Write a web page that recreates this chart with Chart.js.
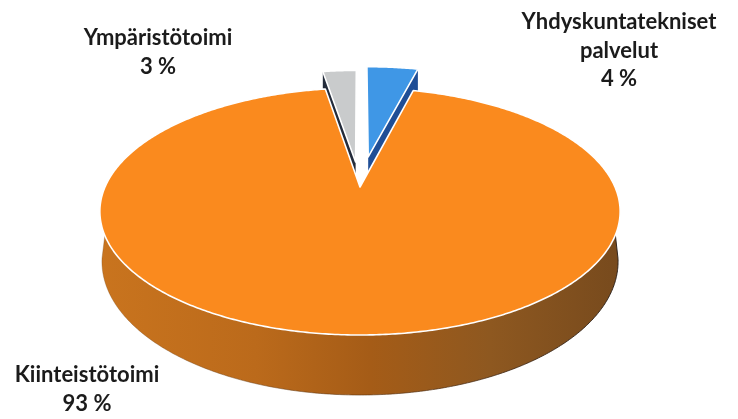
<!DOCTYPE html>
<html lang="fi">
<head>
  <meta charset="UTF-8">
  <title>Kiinteistötoimi</title>
  <script src="https://cdn.jsdelivr.net/npm/chart.js"></script>
  <style>
    html, body { margin: 0; padding: 0; background: #fff; }
    canvas { display: block; }
  </style>
</head>
<body>
  <canvas id="pie" width="738" height="419"></canvas>
  <script>
    // Values, clockwise from the top
    const categories = ['Yhdyskuntatekniset palvelut', 'Kiinteistötoimi', 'Ympäristötoimi'];
    const shares = [4, 93.4, 2.6];
    const sliceColors = ['#3f97e6', '#fa8a1e', '#c9cbcc'];
    const wallColors = ['#1f4e96', '#a85c16', '#232b3a'];
    const explode = [27, 0, 22];

    // Label lines + anchor for each category
    const labelLines = [['Yhdyskuntatekniset', 'palvelut'], ['Kiinteistötoimi'], ['Ympäristötoimi']];
    const labelAnchors = [[619, 29], [87, 382], [158, 45]];
    const labelLeading = 28.5;

    // Perspective of the pie: apex on screen, scale and tilt
    const apexX = 360, apexY = 187;
    const scaleX = 255, scaleY = 118.7, tilt = 0.198;
    const rimDepth = 60;
    const rimFrom = 22 * Math.PI / 180, rimTo = 158 * Math.PI / 180;
    const rimOverhang = 12 * Math.PI / 180;

    function project(x, y) {
      const w = 1 - tilt * y;
      return [apexX + scaleX * x / w, apexY + scaleY * y / w];
    }

    function depthAt(y) {
      return rimDepth * (1 - tilt) / (1 - tilt * y);
    }

    class Arc3d extends Chart.ArcElement {
      static id = 'arc3d';

      draw(ctx) {
        const { startAngle, endAngle } = this.getProps(['startAngle', 'endAngle']);
        const o = this.options;
        const idx = this.$index;
        const ds = this.$dataset;
        const mid = (startAngle + endAngle) / 2;
        const off = o.offset / 100;
        const ox = off * Math.cos(mid), oy = off * Math.sin(mid);
        const onRim = a => [ox + Math.cos(a), oy + Math.sin(a)];

        ctx.save();
        ctx.lineJoin = 'round';

        // cut face of a pulled-out slice
        if (off > 0) {
          const a = Math.cos(mid) > 0 ? endAngle : startAngle;
          const out = onRim(a);
          const p1 = project(ox, oy), p2 = project(out[0], out[1]);
          ctx.beginPath();
          ctx.moveTo(p1[0], p1[1]);
          ctx.lineTo(p2[0], p2[1]);
          ctx.lineTo(p2[0], p2[1] + depthAt(out[1]));
          ctx.lineTo(p1[0], p1[1] + depthAt(oy));
          ctx.closePath();
          ctx.fillStyle = ds.wallColors[idx];
          ctx.fill();
        }

        // side of the pie, only for the slice that faces the viewer
        const a0 = ((rimFrom - startAngle) % (2 * Math.PI) + 2 * Math.PI) % (2 * Math.PI);
        if (a0 < endAngle - startAngle && off === 0) {
          ctx.beginPath();
          for (let a = rimFrom; a <= rimTo; a += 0.01) {
            const p = project(Math.cos(a), Math.sin(a));
            ctx.lineTo(p[0], p[1]);
          }
          for (let a = rimTo + rimOverhang; a >= rimFrom - rimOverhang; a -= 0.01) {
            const y = Math.sin(a);
            const p = project(Math.cos(a), y);
            ctx.lineTo(apexX + (p[0] - apexX) * 0.992, p[1] + depthAt(y));
          }
          ctx.closePath();
          const g = ctx.createLinearGradient(100, 0, 620, 0);
          g.addColorStop(0, '#c9741e');
          g.addColorStop(0.3, '#bb6a1b');
          g.addColorStop(0.52, '#a55c17');
          g.addColorStop(0.75, '#8e5820');
          g.addColorStop(1, '#774a1d');
          ctx.fillStyle = g;
          ctx.fill();
          const edge = ctx.createLinearGradient(100, 0, 620, 0);
          edge.addColorStop(0, 'rgba(120,70,20,0.3)');
          edge.addColorStop(0.5, 'rgba(90,50,15,0.6)');
          edge.addColorStop(1, 'rgba(40,30,25,0.95)');
          ctx.strokeStyle = edge;
          ctx.lineWidth = 1;
          ctx.stroke();
        }

        // top face
        ctx.beginPath();
        const c = project(ox, oy);
        ctx.moveTo(c[0], c[1]);
        const steps = Math.ceil((endAngle - startAngle) / 0.01);
        for (let i = 0; i <= steps; i++) {
          const q = onRim(startAngle + (endAngle - startAngle) * i / steps);
          const p = project(q[0], q[1]);
          ctx.lineTo(p[0], p[1]);
        }
        ctx.closePath();
        ctx.fillStyle = o.backgroundColor;
        ctx.fill();
        ctx.strokeStyle = '#fff';
        ctx.lineWidth = 1.6;
        ctx.stroke();
        ctx.restore();
      }
    }

    class Pie3dController extends Chart.PieController {
      static id = 'pie3d';
      static defaults = { dataElementType: 'arc3d' };

      draw() {
        const ctx = this.chart.ctx;
        const ds = this.getDataset();
        // pulled-out slices go first, the big one covers their cut faces
        this.getMeta().data
          .map((arc, i) => { arc.$index = i; arc.$dataset = ds; return arc; })
          .sort((a, b) => b.options.offset - a.options.offset)
          .forEach(arc => arc.draw(ctx));
      }
    }

    Chart.register(Arc3d, Pie3dController);

    const sliceLabels = {
      id: 'sliceLabels',
      afterDraw(chart) {
        const ctx = chart.ctx;
        ctx.save();
        ctx.font = 'bold 22px Lato, "Open Sans", sans-serif';
        ctx.fillStyle = '#1b1b1b';
        ctx.textAlign = 'center';
        ctx.textBaseline = 'alphabetic';
        labelLines.forEach((lines, i) => {
          const text = lines.concat(Math.round(shares[i]) + ' %');
          text.forEach((t, n) => {
            ctx.fillText(t, labelAnchors[i][0], labelAnchors[i][1] + n * labelLeading);
          });
        });
        ctx.restore();
      }
    };

    new Chart(document.getElementById('pie'), {
      type: 'pie3d',
      data: {
        labels: categories,
        datasets: [{
          data: shares,
          backgroundColor: sliceColors,
          wallColors: wallColors,
          offset: explode
        }]
      },
      options: {
        responsive: false,
        animation: false,
        events: [],
        plugins: { legend: { display: false }, tooltip: { enabled: false } }
      },
      plugins: [sliceLabels]
    });
  </script>
</body>
</html>
